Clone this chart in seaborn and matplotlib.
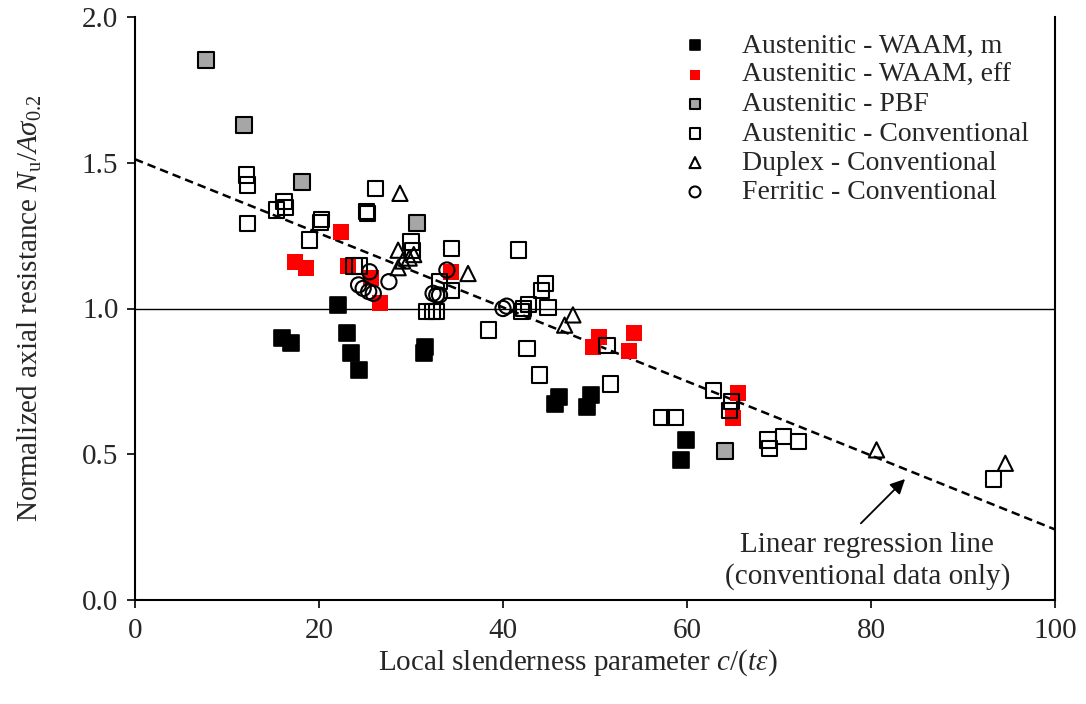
import numpy as np
import pandas as pd
import matplotlib
matplotlib.use("Agg")
import matplotlib.pyplot as plt
import seaborn as sns

# ---- data ----
waam_m_x = [16.0, 17.0, 22.1, 23.0, 23.5, 24.4, 31.5, 31.4, 45.7, 46.1, 49.1, 49.6, 59.9, 59.3]
waam_m_y = [0.898, 0.880, 1.012, 0.915, 0.848, 0.788, 0.869, 0.849, 0.672, 0.697, 0.661, 0.703, 0.549, 0.480]

waam_eff_x = [17.4, 18.6, 22.4, 23.2, 25.6, 26.6, 34.3, 49.8, 50.4, 53.7, 54.2, 65.0, 65.5]
waam_eff_y = [1.161, 1.138, 1.263, 1.146, 1.105, 1.018, 1.125, 0.869, 0.903, 0.855, 0.915, 0.623, 0.711]

pbf_x = [7.7, 11.8, 18.2, 30.7, 64.1]
pbf_y = [1.852, 1.630, 1.433, 1.292, 0.511]

aus_conv_x = [12.1, 12.2, 12.2, 15.4, 16.2, 16.4, 19.0, 20.3, 20.2, 23.8, 24.4, 25.2, 25.3, 26.1,
              30.0, 30.2, 31.7, 32.3, 32.8, 33.1, 34.4, 34.4, 38.4, 41.7, 42.0, 42.2, 42.8, 42.6,
              44.0, 44.2, 44.6, 44.9, 51.3, 51.7, 57.2, 58.7, 62.9, 64.6, 64.8, 68.8, 69.0, 70.5,
              72.1, 93.3]
aus_conv_y = [1.458, 1.424, 1.292, 1.338, 1.366, 1.346, 1.235, 1.304, 1.296, 1.146, 1.146, 1.332, 1.327, 1.412,
              1.228, 1.200, 0.989, 0.989, 0.989, 1.092, 1.063, 1.207, 0.926, 1.201, 0.989, 1.000, 1.015, 0.863,
              0.772, 1.061, 1.086, 1.004, 0.873, 0.741, 0.627, 0.627, 0.720, 0.650, 0.680, 0.549, 0.520, 0.560,
              0.543, 0.415]

duplex_x = [28.8, 28.6, 28.6, 29.1, 29.8, 30.3, 36.2, 46.7, 47.6, 80.6, 94.6]
duplex_y = [1.395, 1.200, 1.140, 1.163, 1.173, 1.185, 1.120, 0.943, 0.978, 0.515, 0.469]

ferritic_x = [24.3, 24.8, 25.4, 25.9, 25.5, 27.6, 32.4, 32.8, 33.1, 33.9, 40.0, 40.4]
ferritic_y = [1.081, 1.069, 1.058, 1.052, 1.126, 1.092, 1.052, 1.046, 1.046, 1.132, 1.000, 1.008]

series_labels = ["Austenitic - WAAM, m", "Austenitic - WAAM, eff", "Austenitic - PBF",
                 "Austenitic - Conventional", "Duplex - Conventional", "Ferritic - Conventional"]

reg_intercept = 1.512
reg_slope = -0.0127

x_ticks = [0, 20, 40, 60, 80, 100]
y_ticks = [0.0, 0.5, 1.0, 1.5, 2.0]

# ---- style ----
sns.set_theme(style="white")
plt.rcParams['font.family'] = ['Liberation Serif', 'DejaVu Serif']
plt.rcParams['mathtext.fontset'] = 'custom'
plt.rcParams['mathtext.rm'] = 'Liberation Serif'
plt.rcParams['mathtext.it'] = 'Liberation Serif:italic'
plt.rcParams['mathtext.bf'] = 'Liberation Serif:bold'

FS = 21
FS_LEG = 20

fig = plt.figure(figsize=(10.86, 7.04), dpi=100)
ax = fig.add_axes([135/1086, 1 - 600/704, (1055-135)/1086, (600-17)/704])

# reference line at 1.0
ax.axhline(1.0, color='black', lw=1.0, zorder=1)

# regression line
xr = np.array([0.0, 100.0])
ax.plot(xr, reg_intercept + reg_slope * xr, color='black', lw=1.8, ls=(0, (3.4, 2.0)), zorder=2)

S = 120
styles = [
    (waam_m_x, waam_m_y, 's', 'black', 'black', 1.2),
    (waam_eff_x, waam_eff_y, 's', '#FF0000', '#FF0000', 0.0),
    (pbf_x, pbf_y, 's', '#A6A6A6', 'black', 1.5),
    (aus_conv_x, aus_conv_y, 's', 'none', 'black', 1.5),
    (duplex_x, duplex_y, '^', 'none', 'black', 1.5),
    (ferritic_x, ferritic_y, 'o', 'none', 'black', 1.5),
]
for i, ((xs, ys, mk, fc, ec, lw), lab) in enumerate(zip(styles, series_labels)):
    df = pd.DataFrame({'x': xs, 'y': ys})
    sns.scatterplot(data=df, x='x', y='y', marker=mk, s=S, facecolor=fc,
                    edgecolor=ec, linewidth=lw, label=lab, ax=ax, zorder=3 + i)

ax.set_xlim(0, 100)
ax.set_ylim(0, 2.0)
ax.set_xticks(x_ticks)
ax.set_yticks(y_ticks)
ax.set_xticklabels([str(t) for t in x_ticks], fontsize=FS)
ax.set_yticklabels([f"{t:.1f}" for t in y_ticks], fontsize=FS)
ax.tick_params(axis='both', direction='out', length=6, width=1.2, color='black',
               bottom=True, left=True)
ax.tick_params(axis='x', pad=7)
ax.tick_params(axis='y', pad=6)

for side in ['left', 'bottom', 'right']:
    ax.spines[side].set_color('black')
    ax.spines[side].set_linewidth(1.5)
ax.spines['top'].set_visible(False)

ax.set_xlabel(r"Local slenderness parameter $\mathit{c/(t\varepsilon)}$", fontsize=FS)
ax.xaxis.set_label_coords((578 - 135) / 920, (600 - 647) / 583)
ax.set_ylabel(r"Normalized axial resistance $N_{\mathrm{u}}/A\sigma_{0.2}$", fontsize=FS, labelpad=27)

leg = ax.legend(loc='upper left', bbox_to_anchor=(670/1086, 1 - 22/704), bbox_transform=fig.transFigure,
                frameon=False, fontsize=FS_LEG, markerscale=0.72, handletextpad=1.2,
                labelspacing=0.14, borderaxespad=0, handlelength=1.0)

# annotation text and arrow
ax.text(79.6, 0.135, "Linear regression line\n(conventional data only)",
        ha='center', va='center', fontsize=FS, linespacing=1.25)
ax.annotate("", xy=(83.7, 0.415), xytext=(78.9, 0.263), textcoords='data',
            arrowprops=dict(arrowstyle='-|>', color='black', lw=1.3, mutation_scale=22,
                            shrinkA=0, shrinkB=0))

fig.savefig("out.png", dpi=100)
